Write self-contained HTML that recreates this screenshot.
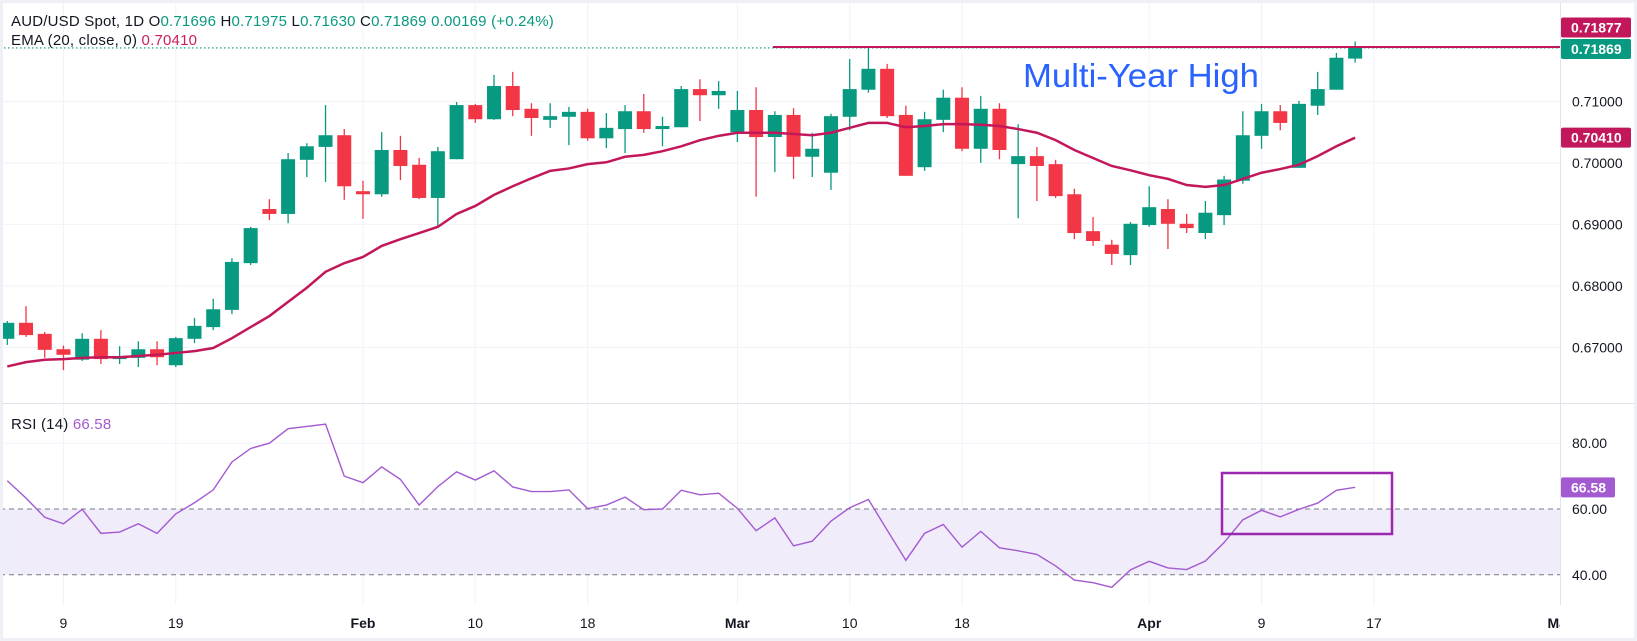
<!DOCTYPE html>
<html><head><meta charset="utf-8"><style>
html,body{margin:0;padding:0;background:#fff;}
svg{display:block;font-family:"Liberation Sans",sans-serif;}
</style></head><body>
<svg id="chart" width="1637" height="641" viewBox="0 0 1637 641" xmlns="http://www.w3.org/2000/svg">
<rect x="0" y="0" width="1637" height="641" fill="#ffffff"/>
<g id="grid"></g>
<rect id="rsiband" x="0" y="0" width="1560" height="0" fill="#f0ecf9"/>
<g id="rsiLevels"></g>
<g id="candles"></g>
<polyline id="ema" fill="none" stroke="#c2185b" stroke-width="2.5"/>
<line id="lastLine" x1="0" x2="1560" stroke="#089981" stroke-width="1.2" stroke-dasharray="1.5 2.5"/>
<line id="resLine" x1="773" x2="1560" stroke="#c2185b" stroke-width="2"/>
<text x="1023" y="87" font-size="33" fill="#2962ff" textLength="236" lengthAdjust="spacingAndGlyphs">Multi-Year High</text>
<polyline id="rsi" fill="none" stroke="#a35ad1" stroke-width="1.4"/>
<rect x="1222" y="473" width="170" height="61" fill="none" stroke="#9c27b0" stroke-width="2.5"/>
<line x1="0" x2="1637" y1="403.5" y2="403.5" stroke="#e0e3eb" stroke-width="1"/>
<line x1="1560.5" x2="1560.5" y1="0" y2="605" stroke="#e0e3eb" stroke-width="1"/>
<g id="yAxis"></g>
<g id="rsiAxis"></g>
<g id="xAxis"></g>
<g font-size="15" letter-spacing="0.2">
<text x="11" y="26"><tspan fill="#131722">AUD/USD Spot, 1D  O</tspan><tspan fill="#089981">0.71696</tspan><tspan fill="#131722">  H</tspan><tspan fill="#089981">0.71975</tspan><tspan fill="#131722">  L</tspan><tspan fill="#089981">0.71630</tspan><tspan fill="#131722">  C</tspan><tspan fill="#089981">0.71869  0.00169 (+0.24%)</tspan></text>
<text x="11" y="45"><tspan fill="#131722">EMA (20, close, 0)  </tspan><tspan fill="#cc1e5a">0.70410</tspan></text>
<text x="11" y="429"><tspan fill="#131722">RSI (14)  </tspan><tspan fill="#a35ad1">66.58</tspan></text>
</g>
<g id="badges"></g>
<rect x="1.5" y="1.5" width="1634" height="638" fill="none" stroke="#eef0f5" stroke-width="3"/>
</svg>
<script>
const opens=[0.6714,0.6740,0.6722,0.6697,0.6680,0.6714,0.6681,0.6683,0.6697,0.6671,0.6714,0.6733,0.6761,0.6837,0.6925,0.6917,0.7005,0.7026,0.7045,0.6954,0.6949,0.7021,0.6997,0.6943,0.7006,0.7094,0.7071,0.7125,0.7088,0.7070,0.7075,0.7083,0.7040,0.7055,0.7084,0.7055,0.7058,0.7120,0.7110,0.7050,0.7086,0.7042,0.7078,0.7010,0.6984,0.7075,0.7119,0.7153,0.7078,0.6993,0.7070,0.7106,0.7023,0.7088,0.6998,0.7011,0.6998,0.6949,0.6889,0.6867,0.6850,0.6899,0.6925,0.6901,0.6886,0.6915,0.6971,0.7044,0.7084,0.6992,0.7093,0.7119,0.71696];
const highs=[0.6743,0.6767,0.6725,0.6703,0.6723,0.6728,0.6702,0.6710,0.6710,0.6717,0.6748,0.6779,0.6845,0.6896,0.6941,0.7016,0.7032,0.7094,0.7055,0.6971,0.7050,0.7044,0.7008,0.7026,0.7099,0.7096,0.7143,0.7148,0.7097,0.7097,0.7091,0.7088,0.7081,0.7094,0.7112,0.7075,0.7125,0.7136,0.7133,0.7117,0.7123,0.7084,0.7089,0.7049,0.7080,0.7169,0.7190,0.7161,0.7093,0.7083,0.7119,0.7123,0.7109,0.7097,0.7063,0.7026,0.7005,0.6958,0.6912,0.6875,0.6904,0.6962,0.6941,0.6917,0.6938,0.6979,0.7084,0.7096,0.7094,0.7101,0.7148,0.7179,0.71975];
const lows=[0.6704,0.6717,0.6683,0.6663,0.6678,0.6673,0.6673,0.6668,0.6671,0.6668,0.6707,0.6728,0.6754,0.6834,0.6907,0.6902,0.6977,0.6969,0.6940,0.6909,0.6945,0.6972,0.6941,0.6896,0.7006,0.7065,0.7070,0.7076,0.7044,0.7057,0.7029,0.7036,0.7024,0.7016,0.7049,0.7027,0.7058,0.7068,0.7088,0.7034,0.6945,0.6985,0.6974,0.6977,0.6956,0.7053,0.7114,0.7073,0.6979,0.6987,0.7050,0.7019,0.7000,0.7006,0.6910,0.6938,0.6943,0.6876,0.6865,0.6834,0.6834,0.6896,0.6860,0.6886,0.6876,0.6899,0.6966,0.7023,0.7053,0.6992,0.7078,0.7119,0.71630];
const closes=[0.6740,0.6720,0.6696,0.6688,0.6714,0.6681,0.6684,0.6697,0.6684,0.6715,0.6735,0.6762,0.6839,0.6894,0.6917,0.7006,0.7027,0.7045,0.6962,0.6949,0.7021,0.6995,0.6943,0.7019,0.7094,0.7071,0.7125,0.7086,0.7073,0.7076,0.7083,0.7040,0.7057,0.7084,0.7055,0.7060,0.7120,0.7110,0.7117,0.7086,0.7042,0.7078,0.7010,0.7023,0.7076,0.7120,0.7153,0.7076,0.6979,0.7071,0.7106,0.7023,0.7088,0.7021,0.7011,0.6995,0.6946,0.6886,0.6873,0.6852,0.6901,0.6928,0.6901,0.6894,0.6919,0.6973,0.7045,0.7084,0.7065,0.7096,0.7120,0.7171,0.71869];
const emaValues=[0.6669,0.6676,0.6680,0.6681,0.6683,0.6684,0.6684,0.6686,0.6688,0.6691,0.6694,0.6699,0.6715,0.6733,0.6751,0.6774,0.6797,0.6823,0.6837,0.6847,0.6865,0.6876,0.6886,0.6896,0.6917,0.6930,0.6948,0.6962,0.6975,0.6987,0.6991,0.6998,0.7001,0.7010,0.7013,0.7019,0.7027,0.7037,0.7044,0.7049,0.7049,0.7049,0.7047,0.7045,0.7049,0.7057,0.7065,0.7065,0.7058,0.7060,0.7063,0.7063,0.7062,0.7060,0.7055,0.7049,0.7037,0.7021,0.7008,0.6995,0.6988,0.6980,0.6974,0.6964,0.6961,0.6964,0.6974,0.6984,0.6990,0.6997,0.7011,0.7027,0.7041];
const rsiValues=[68.6,63.3,57.5,55.5,59.9,52.6,53.0,55.5,52.6,58.5,61.9,65.8,74.3,78.4,80.0,84.4,85.1,85.8,70.0,68.0,72.8,69.0,61.2,66.8,71.3,68.8,71.6,66.7,65.3,65.3,65.8,60.1,61.2,63.6,59.8,60.0,65.7,64.3,64.8,60.2,53.4,57.3,48.8,50.2,56.3,60.4,62.9,53.6,44.4,52.6,55.3,48.4,53.2,48.2,47.3,46.2,42.7,38.4,37.6,36.2,41.5,44.1,42.1,41.6,44.2,49.8,56.7,59.6,57.6,59.9,61.8,65.7,66.58];
const priceTicks=[0.71,0.70,0.69,0.68,0.67];
const priceTickLabels=["0.71000","0.70000","0.69000","0.68000","0.67000"];
const rsiTicks=[80,60,40];
const rsiTickLabels=["80.00","60.00","40.00"];
const dateIdx=[3,9,19,25,31,39,45,51,61,67,73,83];
const dateLabels=["9","19","Feb","10","18","Mar","10","18","Apr","9","17","May"];
const dateBold=[false,false,true,false,false,true,false,false,true,false,false,true];
const resistance=0.71877;

const NS="http://www.w3.org/2000/svg";
const X0=7.3, DX=18.72, PW=1560;
const xOf=i=>X0+DX*i;
const yP=p=>101.4+(0.71-p)*6150;
const yR=v=>509-(v-60)*3.29;
function mk(tag,attrs,parent){const e=document.createElementNS(NS,tag);for(const k in attrs)e.setAttribute(k,attrs[k]);parent.appendChild(e);return e;}

const grid=document.getElementById('grid');
priceTicks.forEach(p=>{const l=mk('line',{x1:0,x2:PW,y1:yP(p),y2:yP(p),stroke:'#f0f3fa','stroke-width':1},grid);

});
rsiTicks.forEach(v=>{if(v===80){const l=mk('line',{x1:0,x2:PW,y1:yR(v),y2:yR(v),stroke:'#f0f3fa','stroke-width':1},grid);

}});
dateIdx.forEach(i=>{const x=xOf(i);if(x<PW){const l=mk('line',{x1:x,x2:x,y1:0,y2:605,stroke:'#f0f3fa','stroke-width':1},grid);

}});

const band=document.getElementById('rsiband');
band.setAttribute('y',yR(60));band.setAttribute('height',yR(40)-yR(60));
const rl=document.getElementById('rsiLevels');
[60,40].forEach(v=>{const l=mk('line',{x1:0,x2:PW,y1:yR(v),y2:yR(v),stroke:'#787b86','stroke-width':1,'stroke-dasharray':'5 4'},rl);

});

const cg=document.getElementById('candles');
for(let i=0;i<opens.length;i++){
  const up=closes[i]>=opens[i];const col=up?'#089981':'#f23645';const x=xOf(i);
  const g=mk('g',{},cg);
  
  
  mk('line',{x1:x,x2:x,y1:yP(highs[i]),y2:yP(lows[i]),stroke:col,'stroke-width':1.3},g);
  const t=yP(Math.max(opens[i],closes[i])),b=yP(Math.min(opens[i],closes[i]));
  mk('rect',{x:x-7,y:t,width:14,height:Math.max(1.5,b-t),fill:col},g);
}
document.getElementById('ema').setAttribute('points',emaValues.map((v,i)=>xOf(i)+','+yP(v)).join(' '));
document.getElementById('rsi').setAttribute('points',rsiValues.map((v,i)=>xOf(i)+','+yR(v)).join(' '));
const ll=document.getElementById('lastLine');const lc=closes[closes.length-1];
ll.setAttribute('y1',yP(lc));ll.setAttribute('y2',yP(lc));
const rs=document.getElementById('resLine');rs.setAttribute('y1',yP(resistance)-0.5);rs.setAttribute('y2',yP(resistance)-0.5);

const ya=document.getElementById('yAxis');
priceTicks.forEach((p,k)=>{const t=mk('text',{x:1572,y:yP(p)+5,'font-size':14,fill:'#131722'},ya);t.textContent=priceTickLabels[k];

});
const ra=document.getElementById('rsiAxis');
rsiTicks.forEach((v,k)=>{const t=mk('text',{x:1572,y:yR(v)+5,'font-size':14,fill:'#131722'},ra);t.textContent=rsiTickLabels[k];

});
const xa=document.getElementById('xAxis');
const clip=mk('clipPath',{id:'xclip'},document.getElementById('chart'));mk('rect',{x:0,y:600,width:PW,height:40},clip);
xa.setAttribute('clip-path','url(#xclip)');
dateIdx.forEach((i,k)=>{const t=mk('text',{x:xOf(i),y:628,'font-size':14,'text-anchor':'middle',fill:'#131722','font-weight':dateBold[k]?'bold':'normal'},xa);t.textContent=dateLabels[k];

});

const bg=document.getElementById('badges');
function badge(y,txt,col,w,name){const g=mk('g',{},bg);


mk('rect',{x:1561,y:y-10,width:w,height:20,rx:2,fill:col},g);
const t=mk('text',{x:1571,y:y+5,'font-size':14,'font-weight':'bold',fill:'#fff'},g);t.textContent=txt;}
badge(yP(resistance)-20,resistance.toFixed(5),'#c2185b',70,'resistance-badge');
badge(yP(lc)+1,lc.toFixed(5),'#089981',70,'last-price-badge');
badge(yP(emaValues[emaValues.length-1]),"0.70410",'#c2185b',70,'ema-badge');
badge(yR(rsiValues[rsiValues.length-1]),rsiValues[rsiValues.length-1].toFixed(2),'#a35ad1',54,'rsi-badge');
</script>
</body></html>
